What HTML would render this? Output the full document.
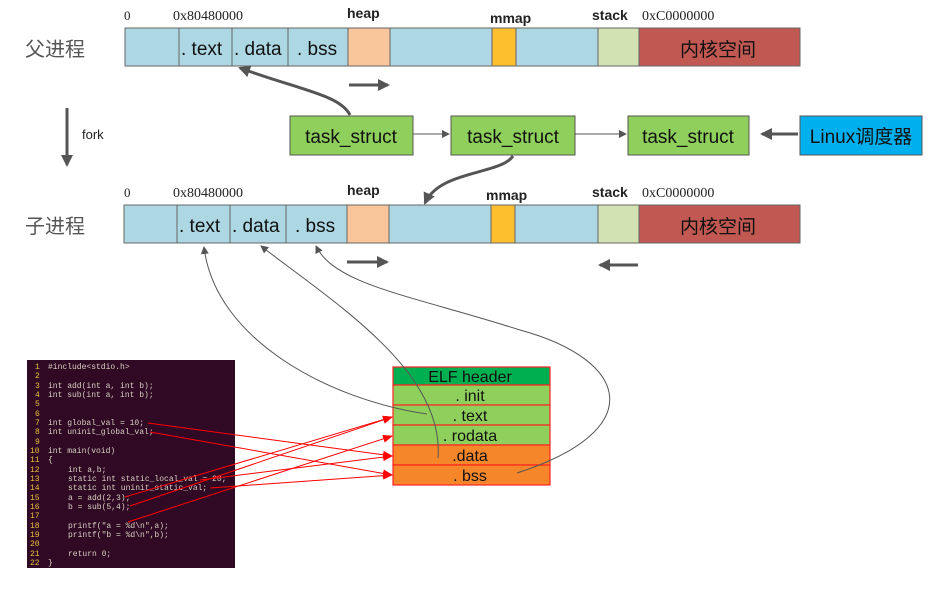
<!DOCTYPE html>
<html><head><meta charset="utf-8"><style>
html,body{margin:0;padding:0;background:#fff;}
svg{display:block;font-family:"Liberation Sans","Noto Sans CJK SC",sans-serif;}
.m{font-family:"Liberation Mono",monospace;font-size:8px;}
</style></head><body>
<svg width="945" height="590" viewBox="0 0 945 590" xmlns="http://www.w3.org/2000/svg">
<defs>
<marker id="ag" markerWidth="8" markerHeight="8" refX="7" refY="4" orient="auto" markerUnits="userSpaceOnUse"><path d="M0,0 L8,4 L0,8 z" fill="#555"/></marker>
<marker id="agb" markerWidth="12" markerHeight="12" refX="10" refY="6" orient="auto" markerUnits="userSpaceOnUse"><path d="M0,0 L12,6 L0,12 z" fill="#555"/></marker>
<marker id="ar" markerWidth="10" markerHeight="8" refX="9" refY="4" orient="auto" markerUnits="userSpaceOnUse"><path d="M0,0 L10,4 L0,8 z" fill="#f00"/></marker>
</defs>
<g font-size="13" fill="#222">
<text x="124" y="20" font-family="Liberation Serif">0</text>
<text x="173" y="20" font-family="Liberation Serif" font-size="14">0x80480000</text>
<text x="347" y="18" font-size="14" font-weight="bold">heap</text>
<text x="490" y="23" font-size="14" font-weight="bold">mmap</text>
<text x="592" y="20" font-size="14" font-weight="bold">stack</text>
<text x="642" y="20" font-family="Liberation Serif" font-size="14">0xC0000000</text>
</g>
<text x="25" y="56" font-size="20" fill="#555">父进程</text>
<g stroke="#666" stroke-width="1">
<rect x="125" y="28" width="54" height="38" fill="#add8e3"/>
<rect x="179" y="28" width="53" height="38" fill="#add8e3"/>
<rect x="232" y="28" width="56" height="38" fill="#add8e3"/>
<rect x="288" y="28" width="60" height="38" fill="#add8e3"/>
<rect x="348" y="28" width="42" height="38" fill="#f9c59b"/>
<rect x="390" y="28" width="102" height="38" fill="#add8e3"/>
<rect x="492" y="28" width="24" height="38" fill="#fdbf2d"/>
<rect x="516" y="28" width="82" height="38" fill="#add8e3"/>
<rect x="598" y="28" width="41" height="38" fill="#d3e2b3"/>
<rect x="639" y="28" width="161" height="38" fill="#c25852"/>
</g>
<g font-size="19" fill="#111">
<text x="181" y="55">. text</text>
<text x="234" y="55">. data</text>
<text x="297" y="55">. bss</text>
<text x="680" y="56">内核空间</text>
</g>
<line x1="349" y1="85" x2="388" y2="85" stroke="#555" stroke-width="3" marker-end="url(#agb)"/>
<path d="M350,115 C340,95 300,90 240,68" fill="none" stroke="#555" stroke-width="3" marker-end="url(#agb)"/>
<line x1="67" y1="108" x2="67" y2="165" stroke="#555" stroke-width="3" marker-end="url(#agb)"/>
<text x="82" y="139" font-size="13" fill="#222">fork</text>
<g stroke="#555" stroke-width="1">
<rect x="290" y="116" width="123" height="39" fill="#8ed05b"/>
<rect x="451" y="116" width="124" height="39" fill="#8ed05b"/>
<rect x="628" y="116" width="121" height="39" fill="#8ed05b"/>
<rect x="800" y="116" width="122" height="39" fill="#00b0ee"/>
</g>
<g font-size="19" fill="#111" text-anchor="middle">
<text x="351" y="143">task_struct</text>
<text x="513" y="143">task_struct</text>
<text x="688" y="143">task_struct</text>
<text x="861" y="143">Linux调度器</text>
</g>
<line x1="413" y1="134" x2="449" y2="134" stroke="#555" stroke-width="1" marker-end="url(#ag)"/>
<line x1="575" y1="134" x2="626" y2="134" stroke="#555" stroke-width="1" marker-end="url(#ag)"/>
<line x1="798" y1="134" x2="762" y2="134" stroke="#555" stroke-width="3" marker-end="url(#agb)"/>
<path d="M513,156 C500,175 440,170 425,203" fill="none" stroke="#555" stroke-width="3" marker-end="url(#agb)"/>
<g font-size="13" fill="#222">
<text x="124" y="197" font-family="Liberation Serif">0</text>
<text x="173" y="197" font-family="Liberation Serif" font-size="14">0x80480000</text>
<text x="347" y="195" font-size="14" font-weight="bold">heap</text>
<text x="486" y="200" font-size="14" font-weight="bold">mmap</text>
<text x="592" y="197" font-size="14" font-weight="bold">stack</text>
<text x="642" y="197" font-family="Liberation Serif" font-size="14">0xC0000000</text>
</g>
<text x="25" y="233" font-size="20" fill="#555">子进程</text>
<g stroke="#666" stroke-width="1">
<rect x="124" y="205" width="53" height="38" fill="#add8e3"/>
<rect x="177" y="205" width="53" height="38" fill="#add8e3"/>
<rect x="230" y="205" width="56" height="38" fill="#add8e3"/>
<rect x="286" y="205" width="61" height="38" fill="#add8e3"/>
<rect x="347" y="205" width="42" height="38" fill="#f9c59b"/>
<rect x="389" y="205" width="102" height="38" fill="#add8e3"/>
<rect x="491" y="205" width="24" height="38" fill="#fdbf2d"/>
<rect x="515" y="205" width="83" height="38" fill="#add8e3"/>
<rect x="598" y="205" width="41" height="38" fill="#d3e2b3"/>
<rect x="639" y="205" width="161" height="38" fill="#c25852"/>
</g>
<g font-size="19" fill="#111">
<text x="179" y="232">. text</text>
<text x="232" y="232">. data</text>
<text x="295" y="232">. bss</text>
<text x="680" y="233">内核空间</text>
</g>
<line x1="347" y1="262" x2="387" y2="262" stroke="#555" stroke-width="3" marker-end="url(#agb)"/>
<line x1="638" y1="265" x2="600" y2="265" stroke="#555" stroke-width="3" marker-end="url(#agb)"/>
<rect x="27" y="360" width="208" height="208" fill="#300a24"/>
<g class="m">
<g fill="#e8c23a">
<text x="35" y="369">1</text><text x="35" y="378">2</text><text x="35" y="388">3</text><text x="35" y="397">4</text><text x="35" y="406">5</text><text x="35" y="416">6</text><text x="35" y="425">7</text><text x="35" y="434">8</text><text x="35" y="444">9</text>
<text x="30" y="453">10</text><text x="30" y="462">11</text><text x="30" y="472">12</text><text x="30" y="481">13</text><text x="30" y="490">14</text><text x="30" y="500">15</text><text x="30" y="509">16</text><text x="30" y="518">17</text><text x="30" y="528">18</text><text x="30" y="537">19</text><text x="30" y="546">20</text><text x="30" y="556">21</text><text x="30" y="565">22</text>
</g>
<g fill="#d8d0c0">
<text x="48" y="369">#include&lt;stdio.h&gt;</text>
<text x="48" y="388">int add(int a, int b);</text>
<text x="48" y="397">int sub(int a, int b);</text>
<text x="48" y="425">int global_val = 10;</text>
<text x="48" y="434">int uninit_global_val;</text>
<text x="48" y="453">int main(void)</text>
<text x="48" y="462">{</text>
<text x="68" y="472">int a,b;</text>
<text x="68" y="481">static int static_local_val = 20;</text>
<text x="68" y="490">static int uninit_static_val;</text>
<text x="68" y="500">a = add(2,3);</text>
<text x="68" y="509">b = sub(5,4);</text>
<text x="68" y="528">printf("a = %d\n",a);</text>
<text x="68" y="537">printf("b = %d\n",b);</text>
<text x="68" y="556">return 0;</text>
<text x="48" y="565">}</text>
</g>
</g>
<g stroke="#f22" stroke-width="1.2">
<rect x="393" y="367" width="157" height="18" fill="#00b050"/>
<rect x="393" y="385" width="157" height="20" fill="#8ed05b"/>
<rect x="393" y="405" width="157" height="20" fill="#8ed05b"/>
<rect x="393" y="425" width="157" height="20" fill="#8ed05b"/>
<rect x="393" y="445" width="157" height="20" fill="#f5862a"/>
<rect x="393" y="465" width="157" height="20" fill="#f5862a"/>
</g>
<g font-size="16" fill="#111" text-anchor="middle">
<text x="470" y="382">ELF header</text>
<text x="470" y="401">. init</text>
<text x="470" y="421">. text</text>
<text x="470" y="441">. rodata</text>
<text x="470" y="461">.data</text>
<text x="470" y="481">. bss</text>
</g>
<g fill="none" stroke="#555" stroke-width="1" marker-end="url(#ag)">
<path d="M427,414 C330,400 215,340 204,247"/>
<path d="M438,458 C445,370 330,300 261,246"/>
<path d="M517,473 C650,430 630,360 520,330 C410,295 335,285 316,246"/>
</g>
<g fill="none" stroke="#f00" stroke-width="1" marker-end="url(#ar)">
<line x1="148" y1="423" x2="392" y2="456"/>
<line x1="150" y1="432" x2="392" y2="475"/>
<line x1="200" y1="480" x2="392" y2="456"/>
<line x1="210" y1="488" x2="392" y2="475"/>
<line x1="125" y1="497" x2="392" y2="417"/>
<line x1="130" y1="506" x2="392" y2="417"/>
<line x1="128" y1="522" x2="392" y2="436"/>
</g>
</svg>
</body></html>
